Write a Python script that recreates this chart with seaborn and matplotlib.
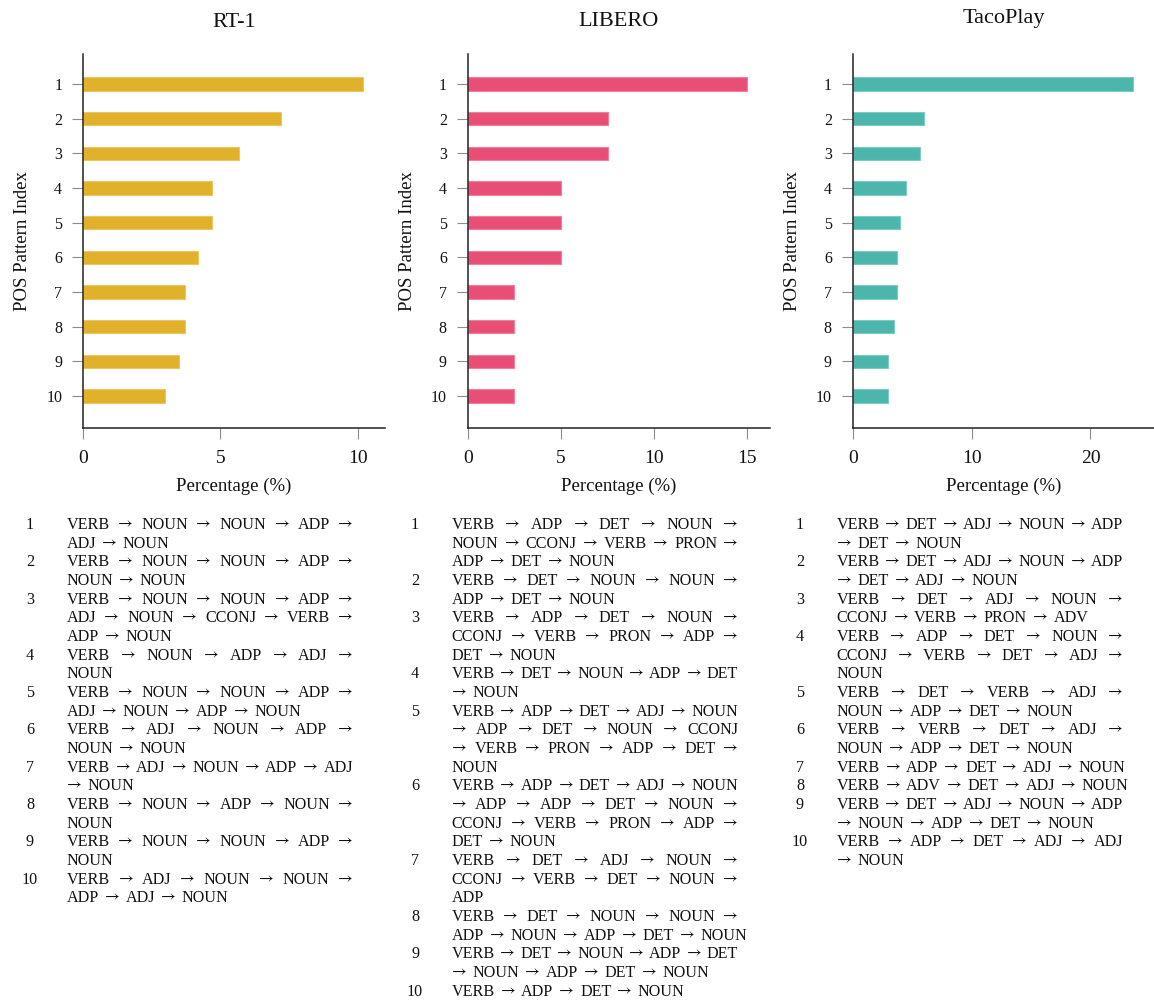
import matplotlib
matplotlib.use("Agg")
import matplotlib.pyplot as plt
import seaborn as sns
import pandas as pd

# ---- data -------------------------------------------------------------
pattern_index = ["1", "2", "3", "4", "5", "6", "7", "8", "9", "10"]

rt1_pct = [10.2, 7.2, 5.7, 4.7, 4.7, 4.2, 3.7, 3.7, 3.5, 3.0]
libero_pct = [15.0, 7.5, 7.5, 5.0, 5.0, 5.0, 2.5, 2.5, 2.5, 2.5]
tacoplay_pct = [23.6, 6.0, 5.7, 4.5, 4.0, 3.7, 3.7, 3.5, 3.0, 3.0]

# POS patterns, one list of typeset lines per pattern
rt1_patterns = [
    ["VERB → NOUN → NOUN → ADP →", "ADJ → NOUN"],
    ["VERB → NOUN → NOUN → ADP →", "NOUN → NOUN"],
    ["VERB → NOUN → NOUN → ADP →", "ADJ → NOUN → CCONJ → VERB →", "ADP → NOUN"],
    ["VERB → NOUN → ADP → ADJ →", "NOUN"],
    ["VERB → NOUN → NOUN → ADP →", "ADJ → NOUN → ADP → NOUN"],
    ["VERB → ADJ → NOUN → ADP →", "NOUN → NOUN"],
    ["VERB → ADJ → NOUN → ADP → ADJ", "→ NOUN"],
    ["VERB → NOUN → ADP → NOUN →", "NOUN"],
    ["VERB → NOUN → NOUN → ADP →", "NOUN"],
    ["VERB → ADJ → NOUN → NOUN →", "ADP → ADJ → NOUN"],
]
libero_patterns = [
    ["VERB → ADP → DET → NOUN →", "NOUN → CCONJ → VERB → PRON →", "ADP → DET → NOUN"],
    ["VERB → DET → NOUN → NOUN →", "ADP → DET → NOUN"],
    ["VERB → ADP → DET → NOUN →", "CCONJ → VERB → PRON → ADP →", "DET → NOUN"],
    ["VERB → DET → NOUN → ADP → DET", "→ NOUN"],
    ["VERB → ADP → DET → ADJ → NOUN", "→ ADP → DET → NOUN → CCONJ",
     "→ VERB → PRON → ADP → DET →", "NOUN"],
    ["VERB → ADP → DET → ADJ → NOUN", "→ ADP → ADP → DET → NOUN →",
     "CCONJ → VERB → PRON → ADP →", "DET → NOUN"],
    ["VERB → DET → ADJ → NOUN →", "CCONJ → VERB → DET → NOUN →", "ADP"],
    ["VERB → DET → NOUN → NOUN →", "ADP → NOUN → ADP → DET → NOUN"],
    ["VERB → DET → NOUN → ADP → DET", "→ NOUN → ADP → DET → NOUN"],
    ["VERB → ADP → DET → NOUN"],
]
tacoplay_patterns = [
    ["VERB → DET → ADJ → NOUN → ADP", "→ DET → NOUN"],
    ["VERB → DET → ADJ → NOUN → ADP", "→ DET → ADJ → NOUN"],
    ["VERB → DET → ADJ → NOUN →", "CCONJ → VERB → PRON → ADV"],
    ["VERB → ADP → DET → NOUN →", "CCONJ → VERB → DET → ADJ →", "NOUN"],
    ["VERB → DET → VERB → ADJ →", "NOUN → ADP → DET → NOUN"],
    ["VERB → VERB → DET → ADJ →", "NOUN → ADP → DET → NOUN"],
    ["VERB → ADP → DET → ADJ → NOUN"],
    ["VERB → ADV → DET → ADJ → NOUN"],
    ["VERB → DET → ADJ → NOUN → ADP", "→ NOUN → ADP → DET → NOUN"],
    ["VERB → ADP → DET → ADJ → ADJ", "→ NOUN"],
]

dataset_names = ["RT-1", "LIBERO", "TacoPlay"]
dataset_values = [rt1_pct, libero_pct, tacoplay_pct]
dataset_patterns = [rt1_patterns, libero_patterns, tacoplay_patterns]
dataset_ticks = [[0, 5, 10], [0, 5, 10, 15], [0, 10, 20]]
dataset_xmax = [11.0, 16.2, 25.4]
dataset_colors = ["#E1B12C", "#E94F76", "#4DB6AC"]
dataset_edges = ["#EBC85E", "#F07E9C", "#7CCBC3"]

# ---- style ------------------------------------------------------------
sns.set_style("ticks")
SERIF = ["Liberation Serif", "DejaVu Serif"]
ARROW_FAMILY = ["STIXGeneral", "DejaVu Serif"]
plt.rcParams["font.family"] = SERIF

W_PX, H_PX = 1154, 1001
fig = plt.figure(figsize=(W_PX / 100, H_PX / 100), dpi=100)

axes_left_px = [83, 467.7, 852.7]
axes_width_px = 302
axes_top_px, axes_bottom_px = 54, 427.7
title_pads = [19.5, 20.5, 22.5]

for i, name in enumerate(dataset_names):
    left = axes_left_px[i] / W_PX
    bottom = 1 - axes_bottom_px / H_PX
    height = (axes_bottom_px - axes_top_px) / H_PX
    ax = fig.add_axes([left, bottom, axes_width_px / W_PX, height])

    df = pd.DataFrame({"index": pattern_index, "pct": dataset_values[i]})
    sns.barplot(data=df, x="pct", y="index", orient="h", order=pattern_index,
                color=dataset_colors[i], saturation=1, width=0.38,
                edgecolor=dataset_edges[i], linewidth=0.8, ax=ax)

    ax.set_xlim(0, dataset_xmax[i])
    ax.set_ylim(9.915, -0.865)
    ax.set_xticks(dataset_ticks[i])
    ax.set_xticklabels([str(t) for t in dataset_ticks[i]])

    for side in ("top", "right"):
        ax.spines[side].set_visible(False)
    for side in ("left", "bottom"):
        ax.spines[side].set_color("#222222")
        ax.spines[side].set_linewidth(1.1)

    ax.tick_params(axis="both", direction="out", length=8, width=0.8,
                   color="#8c8c8c", labelcolor="#111111")
    ax.tick_params(axis="y", labelsize=11.5, pad=7)
    ax.tick_params(axis="x", labelsize=14, pad=8)

    ax.set_xlabel("Percentage (%)", fontsize=13.5, color="#111111")
    ax.set_ylabel("POS Pattern Index", fontsize=13.5, color="#111111")
    ax.xaxis.set_label_coords(0.5, -0.135)
    ax.yaxis.set_label_coords(-0.172, 0.5)
    ax.set_title(name, fontsize=16, pad=title_pads[i], color="#111111")

# ---- pattern lists below each panel (justified lines) -------------------
fig.canvas.draw()
renderer = fig.canvas.get_renderer()
TXT_FS = 11.6
LINE_STEP = 18.67
FIRST_LINE_Y = 523
num_center_px = [30, 415, 800]
text_left_px = [66.7, 451.7, 836.7]
TEXT_W = 286.5
NAT_GAP = 5.8


def token_family(tok):
    return ARROW_FAMILY if tok == "→" else SERIF


_width_cache = {}


def token_width(tok):
    if tok not in _width_cache:
        t = fig.text(0, 0, tok, fontsize=TXT_FS, family=token_family(tok))
        _width_cache[tok] = t.get_window_extent(renderer).width
        t.remove()
    return _width_cache[tok]


def fx(px):
    return px / W_PX


def fy(py):
    return 1 - py / H_PX


for i, patterns in enumerate(dataset_patterns):
    y = FIRST_LINE_Y
    for k, lines in enumerate(patterns):
        fig.text(fx(num_center_px[i]), fy(y), pattern_index[k], fontsize=TXT_FS,
                 ha="center", va="center_baseline", color="#111111")
        for j, line in enumerate(lines):
            toks = line.split(" ")
            widths = [token_width(t) for t in toks]
            last = j == len(lines) - 1
            if not last and len(toks) > 1:
                gap = (TEXT_W - sum(widths)) / (len(toks) - 1)
            else:
                gap = NAT_GAP
            x = text_left_px[i]
            for t, w in zip(toks, widths):
                fig.text(fx(x), fy(y), t, fontsize=TXT_FS, family=token_family(t),
                         ha="left", va="center_baseline", color="#111111")
                x += w + gap
            y += LINE_STEP

fig.savefig("out.png", dpi=100)
